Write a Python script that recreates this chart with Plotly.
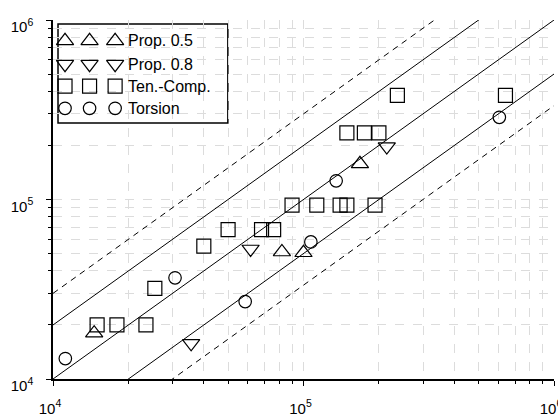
import plotly.graph_objects as go

# Fatigue life: experimental (x) vs. predicted (y), cycles
prop05_x = [1.46e4, 8.2e4, 1.0e5, 1.68e5]
prop05_y = [1.8e4, 5.1e4, 5.05e4, 1.58e5]

prop08_x = [3.56e4, 6.15e4, 2.15e5]
prop08_y = [1.58e4, 5.3e4, 1.97e5]

tencomp_x = [1.5e4, 1.8e4, 2.35e4, 2.55e4, 4.0e4, 5.0e4, 6.8e4, 7.6e4,
             9.0e4, 1.13e5, 1.4e5, 1.49e5, 1.93e5,
             1.49e5, 1.75e5, 2.0e5, 2.37e5, 6.4e5]
tencomp_y = [2.0e4, 2.0e4, 2.0e4, 3.2e4, 5.5e4, 6.8e4, 6.8e4, 6.8e4,
             9.3e4, 9.3e4, 9.3e4, 9.3e4, 9.3e4,
             2.35e5, 2.35e5, 2.35e5, 3.8e5, 3.8e5]

torsion_x = [1.12e4, 3.07e4, 5.85e4, 1.07e5, 1.35e5, 6.05e5]
torsion_y = [1.3e4, 3.66e4, 2.7e4, 5.8e4, 1.27e5, 2.87e5]

series_names = ["Prop. 0.5", "Prop. 0.8", "Ten.-Comp.", "Torsion"]

# Scatter bands around the y = x line: factor 2 (solid) and factor 3 (dashed)
band_factors = [1.0, 2.0, 0.5, 3.0, 1.0 / 3.0]
band_dashes = ["solid", "solid", "solid", "6px,5px", "6px,5px"]
band_x = [1e4, 1e6]

tick_vals = [1e4, 1e5, 1e6]
tick_text = ["10<sup>4</sup>", "10<sup>5</sup>", "10<sup>6</sup>"]
minor_vals = [m * 10 ** e for e in (4, 5) for m in range(2, 10)]

FONT = "Liberation Sans, Arial, sans-serif"
GRID = "#dcdcdc"

symbols = ["triangle-up-open", "triangle-down-open", "square-open", "circle-open"]
sizes = [15, 15, 14, 12.5]
xs = [prop05_x, prop08_x, tencomp_x, torsion_x]
ys = [prop05_y, prop08_y, tencomp_y, torsion_y]

fig = go.Figure()

for f, d in zip(band_factors, band_dashes):
    fig.add_trace(go.Scatter(
        x=band_x, y=[f * v for v in band_x], mode="lines",
        line=dict(color="black", width=1, dash=d),
        showlegend=False, hoverinfo="skip"))

for name, sx, sy, sym, sz in zip(series_names, xs, ys, symbols, sizes):
    fig.add_trace(go.Scatter(
        x=sx, y=sy, mode="markers", name=name,
        marker=dict(symbol=sym, size=sz, color="black",
                    line=dict(color="black", width=1.2)),
        showlegend=False))

# Legend: boxed key with three symbols per entry
key_x = [0.024, 0.073, 0.124]
row_y = [0.942, 0.877, 0.816, 0.754]
for name, sym, sz, ry in zip(series_names, symbols, sizes, row_y):
    fig.add_trace(go.Scatter(
        x=key_x, y=[ry] * len(key_x), mode="markers",
        xaxis="x2", yaxis="y2",
        marker=dict(symbol=sym, size=sz, color="black",
                    line=dict(color="black", width=1.2)),
        showlegend=False, hoverinfo="skip"))
    fig.add_annotation(
        x=0.146, y=ry, xref="paper", yref="paper", text=name,
        showarrow=False, xanchor="left", yanchor="middle",
        font=dict(family=FONT, size=16, color="black"))

fig.add_shape(type="rect", xref="paper", yref="paper",
              x0=0.010, x1=0.349, y0=0.713, y1=0.989,
              line=dict(color="black", width=1.5),
              fillcolor="white", layer="between")

axis_common = dict(
    type="log", range=[4, 6],
    tickmode="array", tickvals=tick_vals, ticktext=tick_text,
    ticks="outside", ticklen=5, tickcolor="black", tickwidth=1,
    showline=True, linecolor="black", linewidth=1.5,
    showgrid=True, gridcolor=GRID, griddash="dash", gridwidth=1,
    zeroline=False, automargin=False, ticklabeloverflow="allow",
    tickfont=dict(family=FONT, size=15, color="black"),
    minor=dict(tickmode="array", tickvals=minor_vals, ticks="outside",
               ticklen=3, tickcolor="black", showgrid=True,
               gridcolor=GRID, griddash="dash", gridwidth=1),
)

fig.update_layout(
    width=558, height=418,
    margin=dict(l=53, r=4, t=20, b=39),
    paper_bgcolor="white", plot_bgcolor="white",
    font=dict(family=FONT, size=15, color="black"),
    xaxis=dict(**axis_common, ticklabelstandoff=10, ticklabelshift=-3),
    yaxis=dict(**axis_common, ticklabelstandoff=10, ticklabelshift=7),
    xaxis2=dict(overlaying="x", range=[0, 1], visible=False),
    yaxis2=dict(overlaying="y", range=[0, 1], visible=False),
    showlegend=False,
)

fig.write_html("out.html")
